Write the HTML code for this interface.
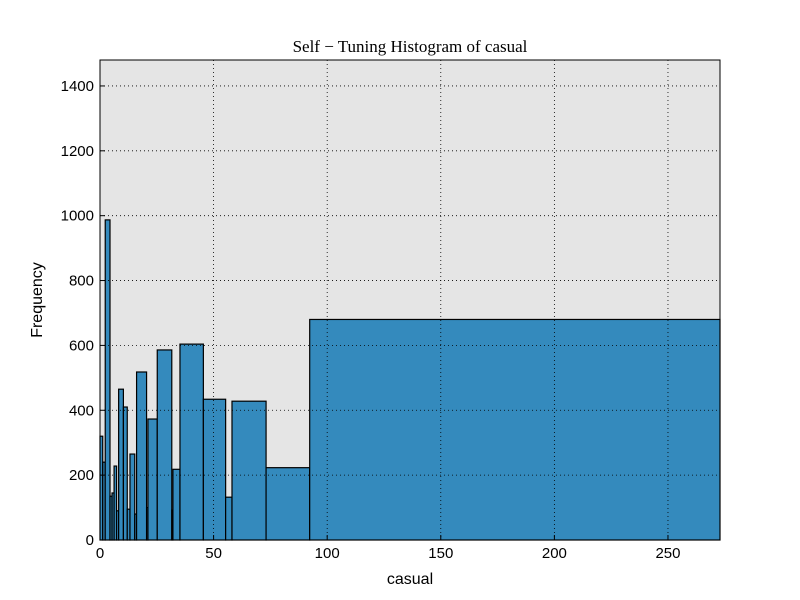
<!DOCTYPE html>
<html><head><meta charset="utf-8"><style>body{margin:0;background:#fff}svg{display:block}</style></head>
<body>
<svg id="chart" width="800" height="600" xmlns="http://www.w3.org/2000/svg">
<rect width="800" height="600" fill="#fff"/>
<rect x="100" y="60" width="620" height="480" fill="#e5e5e5"/>
<g id="bars"></g>
<g id="grid"></g>
<rect x="100" y="60" width="620" height="480" fill="none" stroke="#000" stroke-width="1"/>
<g id="axes"></g>
<text x="410" y="52" text-anchor="middle" font-family="Liberation Serif, serif" font-size="17">Self − Tuning Histogram of casual</text>
<text x="410" y="584" text-anchor="middle" font-family="Liberation Sans, sans-serif" font-size="16">casual</text>
<text transform="translate(42,300) rotate(-90)" text-anchor="middle" font-family="Liberation Sans, sans-serif" font-size="16">Frequency</text>
</svg>
<script>
const binStarts=[0,1.2,2.3,4.4,5.3,6.2,7.3,8.2,10.3,12.0,13.2,15.3,16.1,20.5,21.1,25.2,31.6,32.1,35.2,45.5,55.3,58.1,73.1,92.3];
const binEnds=[1.2,2.3,4.4,5.3,6.2,7.3,8.2,10.3,12.0,13.2,15.3,16.1,20.5,21.1,25.2,31.6,32.1,35.2,45.5,55.3,58.1,73.1,92.3,272.9];
const counts=[320,240,987,135,145,228,90,465,410,95,265,80,518,100,373,586,92,218,604,434,132,428,223,680];
const xTicks=[0,50,100,150,200,250];
const yTicks=[0,200,400,600,800,1000,1200,1400];
const X0=100,X1=720,Y0=540,Y1=60,XMAX=272.9,YMAX=1480;
const sx=v=>X0+v/XMAX*(X1-X0);
const sy=v=>Y0-v/YMAX*(Y0-Y1);
const NS="http://www.w3.org/2000/svg";
const mk=(t,a)=>{const e=document.createElementNS(NS,t);for(const k in a)e.setAttribute(k,a[k]);return e;};
const grid=document.getElementById('grid'),bars=document.getElementById('bars'),axes=document.getElementById('axes');
xTicks.forEach(t=>{
  const x=sx(t);
  const g=mk('line',{x1:x,x2:x,y1:Y1,y2:Y0,stroke:'#000','stroke-dasharray':'1,3','stroke-width':0.8});
  
  
  grid.appendChild(g);
  const tk=mk('line',{x1:x,x2:x,y1:Y0,y2:Y0-5,stroke:'#000'});
  
  
  axes.appendChild(tk);
  const lb=mk('text',{x:x,y:Y0+18,'text-anchor':'middle','font-family':'Liberation Sans, sans-serif','font-size':15});
  lb.textContent=t;
  
  
  axes.appendChild(lb);
});
yTicks.forEach(t=>{
  const y=sy(t);
  const g=mk('line',{x1:X0,x2:X1,y1:y,y2:y,stroke:'#000','stroke-dasharray':'1,3','stroke-width':0.8});
  
  
  grid.appendChild(g);
  const tk=mk('line',{x1:X0,x2:X0+5,y1:y,y2:y,stroke:'#000'});
  
  
  axes.appendChild(tk);
  const lb=mk('text',{x:X0-6,y:y+5,'text-anchor':'end','font-family':'Liberation Sans, sans-serif','font-size':15});
  lb.textContent=t;
  
  
  axes.appendChild(lb);
});
counts.forEach((c,i)=>{
  const x=sx(binStarts[i]),w=sx(binEnds[i])-x,y=sy(c);
  const r=mk('rect',{x:x,y:y,width:w,height:Y0-y,fill:'#348abd',stroke:'#000','stroke-width':1.2});
  
  
  bars.appendChild(r);
});
</script>
</body></html>
